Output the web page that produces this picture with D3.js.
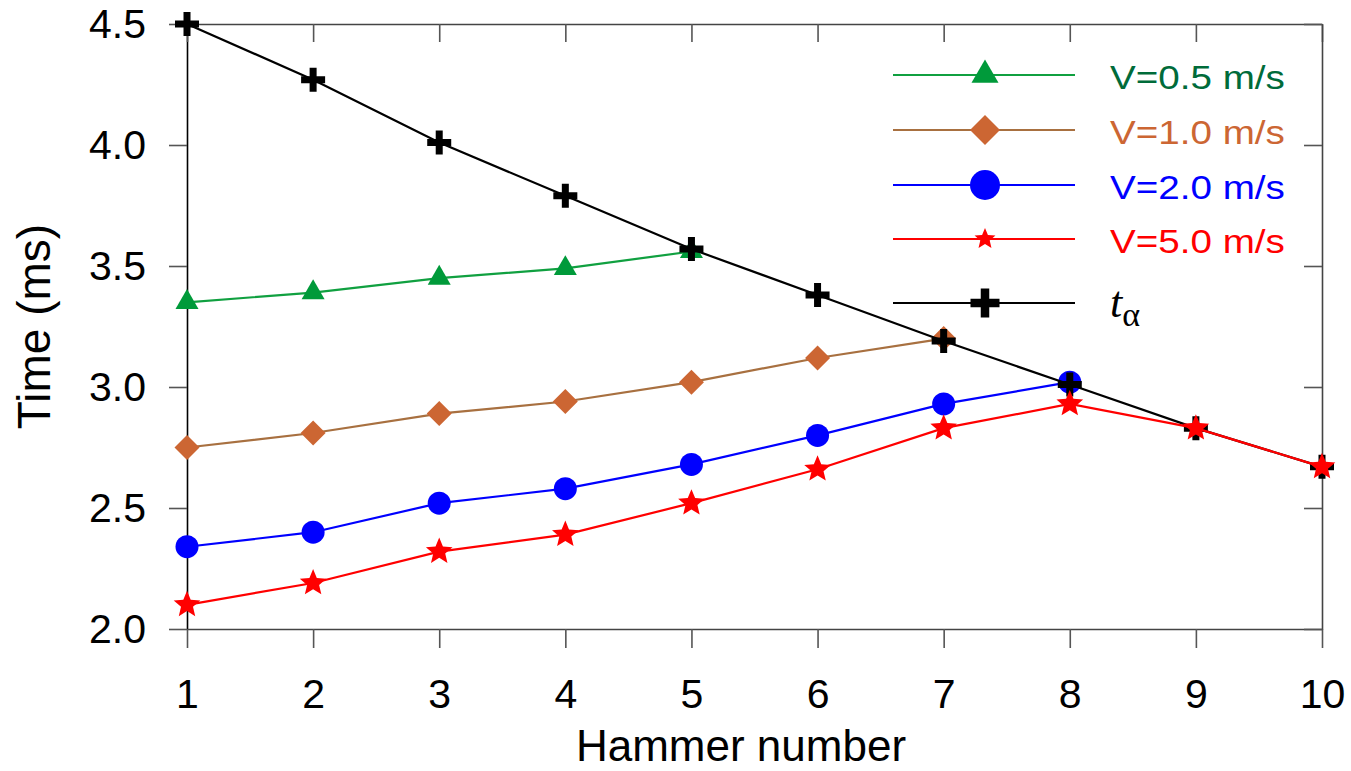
<!DOCTYPE html>
<html>
<head>
<meta charset="utf-8">
<script src="https://cdn.jsdelivr.net/npm/d3@7"></script>
<style>
  html, body { margin: 0; padding: 0; background: #fff; }
  svg { display: block; }
  text { font-family: "Liberation Sans", Arial, sans-serif; }
</style>
</head>
<body>
<svg id="chart" width="1351" height="771"></svg>
<script>
// Hammer index on the x axis
const hammers = [1, 2, 3, 4, 5, 6, 7, 8, 9, 10];

// Arrival times (ms) for each impact velocity
const v05 = [3.35, 3.39, 3.45, 3.49, 3.56];
const v10 = [2.75, 2.81, 2.89, 2.94, 3.02, 3.12, 3.20];
const v20 = [2.34, 2.40, 2.52, 2.58, 2.68, 2.80, 2.93, 3.02];
const v50 = [2.10, 2.19, 2.32, 2.39, 2.52, 2.66, 2.83, 2.93, 2.83, 2.67];
const tAlpha = [4.50, 4.27, 4.01, 3.79, 3.57, 3.38, 3.19, 3.01, 2.83, 2.67];

const yTicks = [2.0, 2.5, 3.0, 3.5, 4.0, 4.5];
const seriesNames = ["V=0.5 m/s", "V=1.0 m/s", "V=2.0 m/s", "V=5.0 m/s"];

const svg = d3.select("#chart");
const L = 187, R = 1322, T = 24, B = 629;

const x = d3.scaleLinear().domain([1, 10]).range([L, R]);
const y = d3.scaleLinear().domain([2.0, 4.5]).range([B, T]);

// marker shapes
function plusPath(len, th) {
  const a = len / 2, b = th / 2;
  return `M${-a},${-b}H${a}V${b}H${-a}Z M${-b},${-a}H${b}V${a}H${-b}Z`;
}
function starPath(r, ratio) {
  const pts = d3.range(10).map(i => {
    const ang = -Math.PI / 2 + i * Math.PI / 5;
    const rr = i % 2 === 0 ? r : r * ratio;
    return [rr * Math.cos(ang), rr * Math.sin(ang)];
  });
  return "M" + pts.map(p => p[0].toFixed(2) + "," + p[1].toFixed(2)).join("L") + "Z";
}
const triangle = s => d3.symbol(d3.symbolTriangle, Math.sqrt(3) / 4 * s * s)();
const diamond = d => d3.symbol(d3.symbolSquare, (d / Math.SQRT2) ** 2)();
const circle = d => d3.symbol(d3.symbolCircle, Math.PI * (d / 2) ** 2)();

const series = [
  { key: "v05", vals: v05, line: "#10a040", fill: "#009a3a", text: "#006b3a",
    mark: triangle(23), legMark: triangle(27), rot: 0, name: seriesNames[0] },
  { key: "v10", vals: v10, line: "#a87040", fill: "#cc6633", text: "#cc6633",
    mark: diamond(25), legMark: diamond(30), rot: 45, name: seriesNames[1] },
  { key: "v20", vals: v20, line: "#0000ff", fill: "#0000ff", text: "#0000ff",
    mark: circle(23), legMark: circle(30), rot: 0, name: seriesNames[2] },
  { key: "ta", vals: tAlpha, line: "#000000", fill: "#000000", text: "#000",
    mark: plusPath(24, 7), legMark: plusPath(29, 8.5), rot: 0, name: null },
  { key: "v50", vals: v50, line: "#ff0000", fill: "#ff0000", text: "#ff0000",
    mark: starPath(14, 0.45), legMark: starPath(11, 0.45), rot: 0, name: seriesNames[3] }
];

// axes
const axisColor = "#444";
const gLeft = svg.append("g").attr("transform", `translate(${L},0)`)
  .call(d3.axisLeft(y).tickValues(yTicks).tickFormat(d3.format(".1f"))
    .tickSize(18).tickSizeOuter(0).tickPadding(23));
const gBottom = svg.append("g").attr("transform", `translate(0,${B})`)
  .call(d3.axisBottom(x).tickValues(hammers).tickFormat(d3.format("d"))
    .tickSize(19).tickSizeOuter(0).tickPadding(31));
const gTop = svg.append("g").attr("transform", `translate(0,${T})`)
  .call(d3.axisTop(x).tickValues(hammers).tickFormat("")
    .tickSize(-18).tickSizeOuter(0));
const gRight = svg.append("g").attr("transform", `translate(${R},0)`)
  .call(d3.axisRight(y).tickValues(yTicks).tickFormat("")
    .tickSize(-18).tickSizeOuter(0));

[gLeft, gBottom, gTop, gRight].forEach(g => {
  g.selectAll("path.domain").attr("stroke", axisColor).attr("stroke-width", 1.6);
  g.selectAll(".tick line").attr("stroke", "#555").attr("stroke-width", 1.6);
  g.selectAll(".tick text").attr("fill", "#000").style("font-size", "41px")
    .style("font-family", "'Liberation Sans', Arial, sans-serif");
});
gLeft.select("path.domain").attr("stroke", "#000");

// axis titles
svg.append("text")
  .attr("transform", `translate(50,${(T + B) / 2}) rotate(-90)`)
  .attr("text-anchor", "middle")
  .style("font-size", "46px")
  .text("Time (ms)");
svg.append("text")
  .attr("x", 741).attr("y", 761)
  .attr("text-anchor", "middle")
  .style("font-size", "44px")
  .text("Hammer number");

// series lines and markers
const lineGen = d3.line().x((d, i) => x(hammers[i])).y(d => y(d));
series.forEach(s => {
  const g = svg.append("g").attr("class", "series-" + s.key);
  g.append("path").datum(s.vals)
    .attr("d", lineGen).attr("fill", "none")
    .attr("stroke", s.line).attr("stroke-width", 2.2);
  g.selectAll("path.mark").data(s.vals).join("path")
    .attr("class", "mark")
    .attr("d", s.mark)
    .attr("fill", s.fill)
    .attr("transform", (d, i) => `translate(${x(hammers[i])},${y(d)}) rotate(${s.rot})`);
});

// legend
const legendOrder = ["v05", "v10", "v20", "v50", "ta"];
const legendRows = [75, 130, 185, 239, 303];
const lx0 = 893, lx1 = 1075, lmx = 985, ltx = 1110;
legendOrder.forEach((k, i) => {
  const s = series.find(d => d.key === k);
  const ry = legendRows[i];
  const g = svg.append("g").attr("class", "legend-row");
  g.append("line").attr("x1", lx0).attr("x2", lx1).attr("y1", ry).attr("y2", ry)
    .attr("stroke", s.line).attr("stroke-width", 2.2);
  g.append("path").attr("d", s.legMark).attr("fill", s.fill)
    .attr("transform", `translate(${lmx},${ry}) rotate(${s.rot})`);
  if (s.name) {
    g.append("text")
      .attr("transform", `translate(${ltx},${ry + 14}) scale(1.17,1)`)
      .attr("fill", s.text)
      .style("font-size", "33px")
      .text(s.name);
  } else {
    const t = g.append("text").attr("x", ltx).attr("y", ry + 14)
      .style("font-family", "'Liberation Serif', 'Times New Roman', serif")
      .attr("fill", "#000");
    t.append("tspan").style("font-style", "italic").style("font-size", "44px").text("t");
    t.append("tspan").attr("dy", 9).style("font-size", "34px").text("α");
  }
});
</script>
</body>
</html>
